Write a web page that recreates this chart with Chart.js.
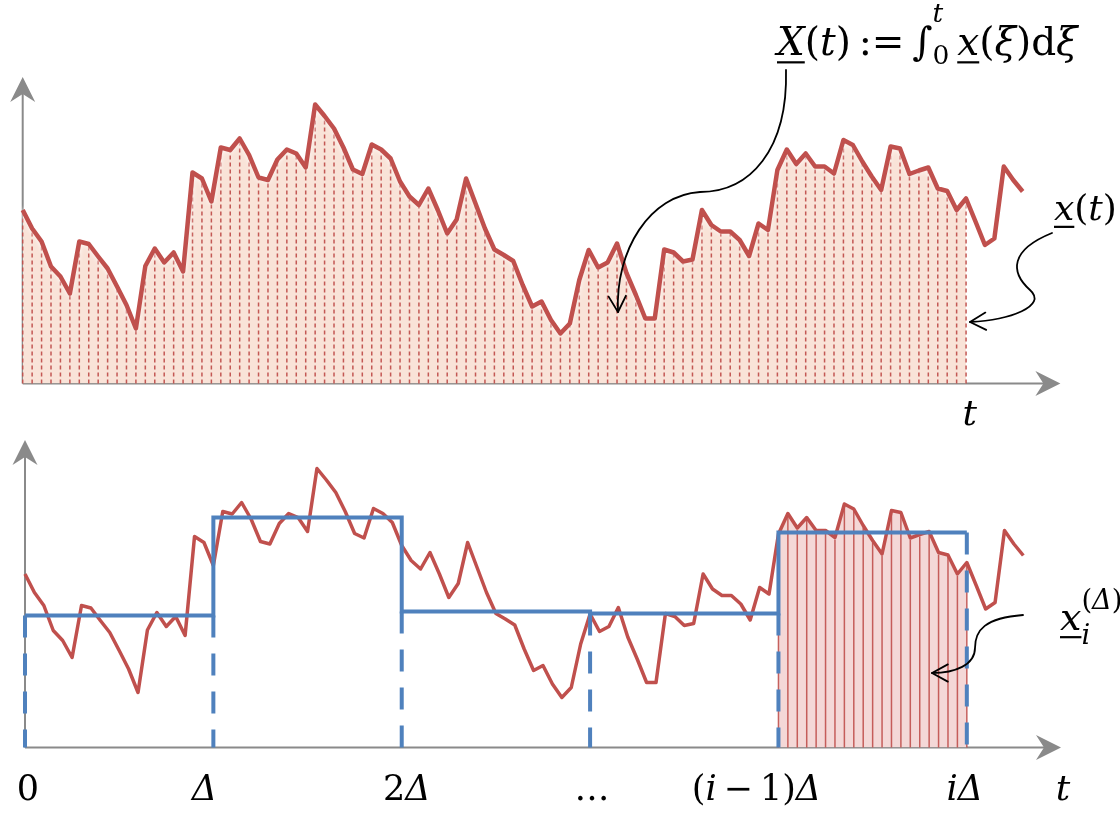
<!DOCTYPE html>
<html>
<head>
<meta charset="utf-8">
<script src="https://cdn.jsdelivr.net/npm/chart.js@4.4.0/dist/chart.umd.min.js"></script>
<style>
  html, body { margin: 0; padding: 0; background: #fff; }
  #wrap { position: relative; width: 1120px; height: 813px; overflow: hidden; }
  #wrap canvas { position: absolute; left: 0; top: 0; }
</style>
</head>
<body>
<div id="wrap">
  <canvas id="chart-top" width="1120" height="813"></canvas>
  <canvas id="chart-bottom" width="1120" height="813"></canvas>
</div>
<script>
// --- DONNEES ---
// x(t) aux instants t = 0..106 (unites arbitraires)
const xValues = [
  173.5, 155, 142, 117, 107, 90, 142, 139.5, 127, 115,
  97, 78.5, 55, 117.5, 135, 121, 131, 112, 211, 205,
  182, 236, 233.5, 245, 228.5, 206, 203.5, 224, 234, 230,
  216, 279, 267.5, 255, 236, 214, 209.5, 239, 234, 225,
  202, 187, 178.5, 195, 173.5, 150, 164, 205, 180, 155,
  134, 128.5, 122.5, 98.5, 77, 82, 63.5, 50, 60, 103.5,
  133.5, 116, 121, 140, 110.5, 88.5, 65, 65, 134, 131,
  122, 124, 173.5, 158.5, 152, 152, 143.5, 127.5, 160, 153.5,
  213.5, 234, 219.5, 230, 217, 217, 210, 243.5, 238.5, 222,
  207, 193.5, 237, 235, 209.5, 213, 216, 195, 192.5, 173.5,
  185, 162, 138.5, 145, 217, 203.5, 192
];
const tValues = xValues.map((_, i) => i);
const integralEnd = 100;                 // X(t) : aire jusqu'a t
const stepEdges = [0, 20, 40, 60, 80, 100];   // 0, Δ, 2Δ, ..., iΔ
const stepLevels = [132, 230, 136, 134, 215]; // moyennes x_i^(Δ)
const shadedInterval = 4;                // intervalle [(i-1)Δ, iΔ]
const tickLabels = ['0', 'Δ', '2Δ', '…', '(i\u2009−\u20091)Δ', 'iΔ'];
const tickNudge = [3, -9, 5, 2, -22, -2];

// --- STYLES ---
const RED = '#c0504d';
const BLUE = '#4f81bd';
const AXIS_GREY = '#8a8a8a';
const SERIF = '"DejaVu Serif", "Liberation Serif", serif';
const ITALIC_CHARS = 'iΔtXxξ';

// --- TEXTE MATHEMATIQUE ---
function layoutRuns(ctx, runs, size) {
  let w = 0;
  const glyphs = [];
  runs.forEach(r => {
    const sz = size * (r.s || 1);
    let px = w;
    [...r.t].forEach(ch => {
      const it = ITALIC_CHARS.includes(ch);
      ctx.font = (it ? 'italic ' : '') + sz + 'px ' + SERIF;
      const cw = ctx.measureText(ch).width;
      glyphs.push({ ch, x: px, dy: (r.dy || 0) * size, f: ctx.font, w: cw, u: r.u });
      px += cw;
    });
    if (!r.stay) w = px;
  });
  return { glyphs, width: w };
}

function drawMath(ctx, runs, x, y, size, align) {
  if (typeof runs === 'string') runs = [{ t: runs }];
  const L = layoutRuns(ctx, runs, size);
  const x0 = align === 'center' ? x - L.width / 2 : x;
  ctx.save();
  ctx.fillStyle = '#000';
  ctx.textAlign = 'left';
  ctx.textBaseline = 'alphabetic';
  L.glyphs.forEach(g => {
    ctx.font = g.f;
    ctx.fillText(g.ch, x0 + g.x, y + g.dy);
    if (g.u) ctx.fillRect(x0 + g.x, y + g.dy + size * 0.16, g.w, 2.2);
  });
  ctx.restore();
}

function drawArrow(ctx, path) {
  ctx.save();
  ctx.strokeStyle = '#000';
  ctx.lineWidth = 1.8;
  ctx.lineCap = 'round';
  ctx.lineJoin = 'round';
  ctx.beginPath();
  ctx.moveTo(path[0], path[1]);
  for (let i = 2; i < path.length; i += 6) {
    ctx.bezierCurveTo(path[i], path[i + 1], path[i + 2], path[i + 3], path[i + 4], path[i + 5]);
  }
  ctx.stroke();
  const n = path.length;
  const tx = path[n - 2], ty = path[n - 1];
  const ang = Math.atan2(ty - path[n - 3], tx - path[n - 4]);
  const h = 18;
  ctx.beginPath();
  ctx.moveTo(tx - h * Math.cos(ang - 0.5), ty - h * Math.sin(ang - 0.5));
  ctx.lineTo(tx, ty);
  ctx.lineTo(tx - h * Math.cos(ang + 0.5), ty - h * Math.sin(ang + 0.5));
  ctx.stroke();
  ctx.restore();
}

function stealth(ctx, x, y, ang) {
  ctx.save();
  ctx.translate(x, y);
  ctx.rotate(ang);
  ctx.beginPath();
  ctx.moveTo(0, 0);
  ctx.lineTo(-25, -12.5);
  ctx.lineTo(-17, 0);
  ctx.lineTo(-25, 12.5);
  ctx.closePath();
  ctx.fill();
  ctx.restore();
}

// axes avec fleches (dessines sous les donnees)
const axesPlugin = {
  id: 'axesArrows',
  beforeDatasetsDraw(chart) {
    const { ctx, chartArea: a } = chart;
    ctx.save();
    ctx.strokeStyle = AXIS_GREY;
    ctx.fillStyle = AXIS_GREY;
    ctx.lineWidth = 2;
    ctx.beginPath();
    ctx.moveTo(a.left, a.bottom);
    ctx.lineTo(a.right - 12, a.bottom);
    ctx.moveTo(a.left, a.bottom);
    ctx.lineTo(a.left, a.top + 12);
    ctx.stroke();
    stealth(ctx, a.right, a.bottom, 0);
    stealth(ctx, a.left, a.top, -Math.PI / 2);
    ctx.restore();
  }
};

// hachures verticales sous la courbe (apres le remplissage du dataset 0)
function hatchPlugin(from, to, dash, width, color) {
  return {
    id: 'hatch',
    afterDatasetDraw(chart, args) {
      if (args.index !== 0) return;
      const { ctx, scales } = chart;
      ctx.save();
      ctx.strokeStyle = color;
      ctx.lineWidth = width;
      ctx.setLineDash(dash);
      tValues.forEach((t, i) => {
        if (t < from || t > to) return;
        const px = scales.x.getPixelForValue(t);
        ctx.beginPath();
        ctx.moveTo(px, scales.y.getPixelForValue(0));
        ctx.lineTo(px, scales.y.getPixelForValue(xValues[i]) + 2);
        ctx.stroke();
      });
      ctx.restore();
    }
  };
}

// halo blanc autour de la courbe rouge
const haloPlugin = {
  id: 'halo',
  beforeDatasetDraw(chart, args) {
    if (args.index !== 1) return;
    chart.ctx.save();
    chart.ctx.shadowColor = 'rgba(255,255,255,0.95)';
    chart.ctx.shadowBlur = 5;
  },
  afterDatasetDraw(chart, args) {
    if (args.index !== 1) return;
    chart.ctx.restore();
  }
};

const points = tValues.map((t, i) => ({ x: t, y: xValues[i] }));

function baseOptions(padding, yMax) {
  return {
    responsive: false,
    animation: false,
    events: [],
    devicePixelRatio: 1,
    layout: { padding },
    plugins: { legend: { display: false }, tooltip: { enabled: false } },
    elements: { point: { radius: 0 }, line: { tension: 0 } },
    scales: {
      x: { type: 'linear', min: 0, max: 110, display: false },
      y: { type: 'linear', min: 0, max: yMax, display: false }
    }
  };
}

// ---------- PANNEAU DU HAUT ----------
const topNotes = {
  id: 'topNotes',
  afterDraw(chart) {
    const { ctx, scales } = chart;
    drawMath(ctx, [
      { t: 'X', u: true }, { t: '(t)' }, { t: '\u2009:=\u2009' }, { t: '∫' },
      { t: 't', s: 0.68, dy: -0.85, stay: true }, { t: '0', s: 0.68, dy: 0.22 }, { t: '\u2009' },
      { t: 'x', u: true }, { t: '(ξ)d' }, { t: 'ξ' }
    ], 777, 55, 39, 'left');
    drawMath(ctx, [{ t: 'x', u: true }, { t: '(t)' }], 1054, 220, 36, 'left');
    drawMath(ctx, 't', scales.x.getPixelForValue(100.4), chart.chartArea.bottom + 41, 36, 'center');
    drawArrow(ctx, [786, 70, 788, 150, 750, 192, 700, 192, 650, 195, 615, 250, 618, 312]);
    drawArrow(ctx, [1052, 233, 1010, 250, 1010, 272, 1030, 290, 1048, 306, 1010, 320, 970, 322]);
  }
};

new Chart(document.getElementById('chart-top').getContext('2d'), {
  type: 'line',
  data: {
    datasets: [
      { data: points.filter(p => p.x <= integralEnd), fill: 'origin', backgroundColor: '#f9e3d8',
        borderWidth: 0, borderColor: 'rgba(0,0,0,0)', order: 4, clip: false },
      { data: points, borderColor: RED, borderWidth: 4.5, borderJoinStyle: 'round', fill: false, order: 3, clip: false }
    ]
  },
  options: baseOptions({ left: 22.7, right: 59.6, top: 77, bottom: 429.5 }, 306.5),
  plugins: [axesPlugin, hatchPlugin(0, integralEnd, [4, 3], 1.5, 'rgba(192,80,77,0.95)'), haloPlugin, topNotes]
});

// ---------- PANNEAU DU BAS ----------
const stepPoints = stepEdges.map((e, k) => ({ x: e, y: stepLevels[Math.min(k, stepLevels.length - 1)] }));
const dropPoints = [];
stepEdges.forEach((e, k) => {
  let lvl;
  if (k === 0) lvl = stepLevels[0];
  else if (k === stepEdges.length - 1) lvl = stepLevels[stepLevels.length - 1];
  else lvl = Math.min(stepLevels[k - 1], stepLevels[k]);
  dropPoints.push({ x: e, y: lvl }, { x: e, y: 0 }, { x: e, y: null });
});
const cellFrom = stepEdges[shadedInterval];
const cellTo = stepEdges[shadedInterval + 1];

const bottomNotes = {
  id: 'bottomNotes',
  afterDraw(chart) {
    const { ctx, scales, chartArea: a } = chart;
    const base = a.bottom + 52.5;
    stepEdges.forEach((e, k) => {
      drawMath(ctx, tickLabels[k], scales.x.getPixelForValue(e) + tickNudge[k], base, 35, 'center');
    });
    drawMath(ctx, 't', a.right + 2, base, 36, 'center');
    drawMath(ctx, [
      { t: 'x', u: true }, { t: '(Δ)', s: 0.72, dy: -0.55, stay: true }, { t: 'i', s: 0.72, dy: 0.36 }
    ], 1060, 630, 38, 'left');
    drawArrow(ctx, [1023, 615, 985, 618, 975, 630, 975, 648, 975, 665, 955, 673, 932, 673]);
  }
};

new Chart(document.getElementById('chart-bottom').getContext('2d'), {
  type: 'line',
  data: {
    datasets: [
      { data: points.filter(p => p.x >= cellFrom && p.x <= cellTo), fill: 'origin', backgroundColor: '#f4d8d7',
        borderWidth: 0, borderColor: 'rgba(0,0,0,0)', order: 5, clip: false },
      { data: points, borderColor: RED, borderWidth: 3.5, borderJoinStyle: 'round', fill: false, order: 4, clip: false },
      { data: stepPoints, stepped: true, borderColor: BLUE, borderWidth: 4, fill: false, order: 2, clip: false },
      { data: dropPoints, borderColor: BLUE, borderWidth: 4, borderDash: [22, 16], spanGaps: false,
        fill: false, order: 1, clip: false }
    ]
  },
  options: baseOptions({ left: 25, right: 59, top: 440, bottom: 65.5 }, 307.5),
  plugins: [axesPlugin, hatchPlugin(cellFrom, cellTo, [], 1.5, 'rgba(192,80,77,0.9)'), bottomNotes]
});
</script>
</body>
</html>
